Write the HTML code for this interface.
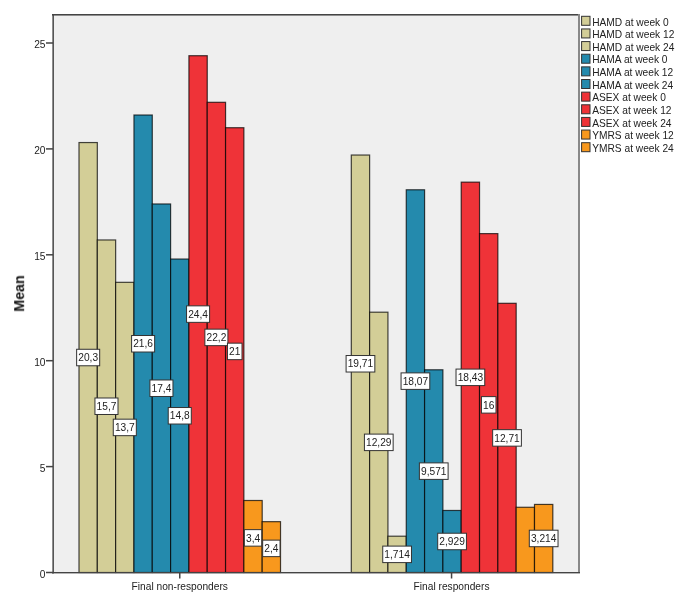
<!DOCTYPE html>
<html><head><meta charset="utf-8"><style>
html,body{margin:0;padding:0;background:#fff;}
svg{display:block;will-change:transform;}
text{font-family:"Liberation Sans", sans-serif;font-size:10.2px;fill:#222;}
</style></head><body>
<svg width="685" height="605" viewBox="0 0 685 605">
<rect x="54" y="16" width="524" height="556" fill="#EFEFEF"/>
<rect x="79.00" y="142.55" width="18.32" height="429.95" fill="#D3CE97" stroke="#000" stroke-opacity="0.72" stroke-width="1.2"/>
<rect x="97.32" y="239.97" width="18.32" height="332.53" fill="#D3CE97" stroke="#000" stroke-opacity="0.72" stroke-width="1.2"/>
<rect x="115.64" y="282.33" width="18.32" height="290.17" fill="#D3CE97" stroke="#000" stroke-opacity="0.72" stroke-width="1.2"/>
<rect x="133.96" y="115.01" width="18.32" height="457.49" fill="#248AAD" stroke="#000" stroke-opacity="0.72" stroke-width="1.2"/>
<rect x="152.28" y="203.97" width="18.32" height="368.53" fill="#248AAD" stroke="#000" stroke-opacity="0.72" stroke-width="1.2"/>
<rect x="170.60" y="259.04" width="18.32" height="313.46" fill="#248AAD" stroke="#000" stroke-opacity="0.72" stroke-width="1.2"/>
<rect x="188.92" y="55.71" width="18.32" height="516.79" fill="#EF3338" stroke="#000" stroke-opacity="0.72" stroke-width="1.2"/>
<rect x="207.24" y="102.30" width="18.32" height="470.20" fill="#EF3338" stroke="#000" stroke-opacity="0.72" stroke-width="1.2"/>
<rect x="225.56" y="127.72" width="18.32" height="444.78" fill="#EF3338" stroke="#000" stroke-opacity="0.72" stroke-width="1.2"/>
<rect x="243.88" y="500.49" width="18.32" height="72.01" fill="#F8981D" stroke="#000" stroke-opacity="0.72" stroke-width="1.2"/>
<rect x="262.20" y="521.67" width="18.32" height="50.83" fill="#F8981D" stroke="#000" stroke-opacity="0.72" stroke-width="1.2"/>
<rect x="351.30" y="155.04" width="18.32" height="417.46" fill="#D3CE97" stroke="#000" stroke-opacity="0.72" stroke-width="1.2"/>
<rect x="369.62" y="312.20" width="18.32" height="260.30" fill="#D3CE97" stroke="#000" stroke-opacity="0.72" stroke-width="1.2"/>
<rect x="387.94" y="536.20" width="18.32" height="36.30" fill="#D3CE97" stroke="#000" stroke-opacity="0.72" stroke-width="1.2"/>
<rect x="406.26" y="189.78" width="18.32" height="382.72" fill="#248AAD" stroke="#000" stroke-opacity="0.72" stroke-width="1.2"/>
<rect x="424.58" y="369.79" width="18.32" height="202.71" fill="#248AAD" stroke="#000" stroke-opacity="0.72" stroke-width="1.2"/>
<rect x="442.90" y="510.46" width="18.32" height="62.04" fill="#248AAD" stroke="#000" stroke-opacity="0.72" stroke-width="1.2"/>
<rect x="461.22" y="182.15" width="18.32" height="390.35" fill="#EF3338" stroke="#000" stroke-opacity="0.72" stroke-width="1.2"/>
<rect x="479.54" y="233.62" width="18.32" height="338.88" fill="#EF3338" stroke="#000" stroke-opacity="0.72" stroke-width="1.2"/>
<rect x="497.86" y="303.30" width="18.32" height="269.20" fill="#EF3338" stroke="#000" stroke-opacity="0.72" stroke-width="1.2"/>
<rect x="516.18" y="507.27" width="18.32" height="65.23" fill="#F8981D" stroke="#000" stroke-opacity="0.72" stroke-width="1.2"/>
<rect x="534.50" y="504.43" width="18.32" height="68.07" fill="#F8981D" stroke="#000" stroke-opacity="0.72" stroke-width="1.2"/>
<rect x="76.63" y="349.27" width="23.05" height="16.50" fill="#fff" stroke="#333" stroke-width="1"/>
<text transform="translate(88.16,361.22) scale(1,1.06)" text-anchor="middle">20,3</text>
<rect x="94.95" y="397.99" width="23.05" height="16.50" fill="#fff" stroke="#333" stroke-width="1"/>
<text transform="translate(106.48,409.94) scale(1,1.06)" text-anchor="middle">15,7</text>
<rect x="113.27" y="419.17" width="23.05" height="16.50" fill="#fff" stroke="#333" stroke-width="1"/>
<text transform="translate(124.80,431.12) scale(1,1.06)" text-anchor="middle">13,7</text>
<rect x="131.59" y="335.51" width="23.05" height="16.50" fill="#fff" stroke="#333" stroke-width="1"/>
<text transform="translate(143.12,347.46) scale(1,1.06)" text-anchor="middle">21,6</text>
<rect x="149.91" y="379.98" width="23.05" height="16.50" fill="#fff" stroke="#333" stroke-width="1"/>
<text transform="translate(161.44,391.93) scale(1,1.06)" text-anchor="middle">17,4</text>
<rect x="168.23" y="407.52" width="23.05" height="16.50" fill="#fff" stroke="#333" stroke-width="1"/>
<text transform="translate(179.76,419.47) scale(1,1.06)" text-anchor="middle">14,8</text>
<rect x="186.55" y="305.85" width="23.05" height="16.50" fill="#fff" stroke="#333" stroke-width="1"/>
<text transform="translate(198.08,317.80) scale(1,1.06)" text-anchor="middle">24,4</text>
<rect x="204.87" y="329.15" width="23.05" height="16.50" fill="#fff" stroke="#333" stroke-width="1"/>
<text transform="translate(216.40,341.10) scale(1,1.06)" text-anchor="middle">22,2</text>
<rect x="227.45" y="343.16" width="14.55" height="16.50" fill="#fff" stroke="#333" stroke-width="1"/>
<text transform="translate(234.72,355.11) scale(1,1.06)" text-anchor="middle">21</text>
<rect x="244.35" y="529.64" width="17.38" height="16.50" fill="#fff" stroke="#333" stroke-width="1"/>
<text transform="translate(253.04,541.59) scale(1,1.06)" text-anchor="middle">3,4</text>
<rect x="262.67" y="540.13" width="17.38" height="16.50" fill="#fff" stroke="#333" stroke-width="1"/>
<text transform="translate(271.36,552.08) scale(1,1.06)" text-anchor="middle">2,4</text>
<rect x="346.10" y="355.52" width="28.73" height="16.50" fill="#fff" stroke="#333" stroke-width="1"/>
<text transform="translate(360.46,367.47) scale(1,1.06)" text-anchor="middle">19,71</text>
<rect x="364.42" y="434.10" width="28.73" height="16.50" fill="#fff" stroke="#333" stroke-width="1"/>
<text transform="translate(378.78,446.05) scale(1,1.06)" text-anchor="middle">12,29</text>
<rect x="382.74" y="546.10" width="28.73" height="16.50" fill="#fff" stroke="#333" stroke-width="1"/>
<text transform="translate(397.10,558.05) scale(1,1.06)" text-anchor="middle">1,714</text>
<rect x="401.06" y="372.89" width="28.73" height="16.50" fill="#fff" stroke="#333" stroke-width="1"/>
<text transform="translate(415.42,384.84) scale(1,1.06)" text-anchor="middle">18,07</text>
<rect x="419.38" y="462.89" width="28.73" height="16.50" fill="#fff" stroke="#333" stroke-width="1"/>
<text transform="translate(433.74,474.84) scale(1,1.06)" text-anchor="middle">9,571</text>
<rect x="437.70" y="533.23" width="28.73" height="16.50" fill="#fff" stroke="#333" stroke-width="1"/>
<text transform="translate(452.06,545.18) scale(1,1.06)" text-anchor="middle">2,929</text>
<rect x="456.02" y="369.08" width="28.73" height="16.50" fill="#fff" stroke="#333" stroke-width="1"/>
<text transform="translate(470.38,381.03) scale(1,1.06)" text-anchor="middle">18,43</text>
<rect x="481.43" y="396.61" width="14.55" height="16.50" fill="#fff" stroke="#333" stroke-width="1"/>
<text transform="translate(488.70,408.56) scale(1,1.06)" text-anchor="middle">16</text>
<rect x="492.66" y="429.65" width="28.73" height="16.50" fill="#fff" stroke="#333" stroke-width="1"/>
<text transform="translate(507.02,441.60) scale(1,1.06)" text-anchor="middle">12,71</text>
<rect x="529.30" y="530.21" width="28.73" height="16.50" fill="#fff" stroke="#333" stroke-width="1"/>
<text transform="translate(543.66,542.16) scale(1,1.06)" text-anchor="middle">3,214</text>
<rect x="52.4" y="14" width="1.5" height="559.5" fill="#444"/>
<rect x="52" y="14" width="527" height="1.6" fill="#444"/>
<rect x="578" y="14" width="2" height="559" fill="#888"/>
<rect x="52" y="572" width="528" height="1.4" fill="#444"/>
<rect x="46" y="571.75" width="7" height="1.5" fill="#444"/>
<text transform="translate(45.50,577.80) scale(1,1.06)" text-anchor="end">0</text>
<rect x="46" y="465.85" width="7" height="1.5" fill="#444"/>
<text transform="translate(45.50,471.90) scale(1,1.06)" text-anchor="end">5</text>
<rect x="46" y="359.95" width="7" height="1.5" fill="#444"/>
<text transform="translate(45.50,366.00) scale(1,1.06)" text-anchor="end">10</text>
<rect x="46" y="254.05" width="7" height="1.5" fill="#444"/>
<text transform="translate(45.50,260.10) scale(1,1.06)" text-anchor="end">15</text>
<rect x="46" y="148.15" width="7" height="1.5" fill="#444"/>
<text transform="translate(45.50,154.20) scale(1,1.06)" text-anchor="end">20</text>
<rect x="46" y="42.25" width="7" height="1.5" fill="#444"/>
<text transform="translate(45.50,48.30) scale(1,1.06)" text-anchor="end">25</text>
<rect x="179.01" y="573" width="1.5" height="5.5" fill="#444"/>
<text transform="translate(179.76,589.80) scale(1,1.06)" text-anchor="middle">Final non-responders</text>
<rect x="450.81" y="573" width="1.5" height="5.5" fill="#444"/>
<text transform="translate(451.56,589.80) scale(1,1.06)" text-anchor="middle">Final responders</text>
<text transform="translate(24.2,293.5) rotate(-90) scale(1,1.08)" text-anchor="middle" style="font-weight:bold;font-size:14.3px;fill:#111">Mean</text>
<rect x="581.6" y="16.30" width="8.4" height="9" fill="#D3CE97" stroke="#333" stroke-width="1"/>
<text transform="translate(592.20,25.50) scale(1,1.06)">HAMD at week 0</text>
<rect x="581.6" y="28.94" width="8.4" height="9" fill="#D3CE97" stroke="#333" stroke-width="1"/>
<text transform="translate(592.20,38.14) scale(1,1.06)">HAMD at week 12</text>
<rect x="581.6" y="41.58" width="8.4" height="9" fill="#D3CE97" stroke="#333" stroke-width="1"/>
<text transform="translate(592.20,50.78) scale(1,1.06)">HAMD at week 24</text>
<rect x="581.6" y="54.22" width="8.4" height="9" fill="#248AAD" stroke="#333" stroke-width="1"/>
<text transform="translate(592.20,63.42) scale(1,1.06)">HAMA at week 0</text>
<rect x="581.6" y="66.86" width="8.4" height="9" fill="#248AAD" stroke="#333" stroke-width="1"/>
<text transform="translate(592.20,76.06) scale(1,1.06)">HAMA at week 12</text>
<rect x="581.6" y="79.50" width="8.4" height="9" fill="#248AAD" stroke="#333" stroke-width="1"/>
<text transform="translate(592.20,88.70) scale(1,1.06)">HAMA at week 24</text>
<rect x="581.6" y="92.14" width="8.4" height="9" fill="#EF3338" stroke="#333" stroke-width="1"/>
<text transform="translate(592.20,101.34) scale(1,1.06)">ASEX at week 0</text>
<rect x="581.6" y="104.78" width="8.4" height="9" fill="#EF3338" stroke="#333" stroke-width="1"/>
<text transform="translate(592.20,113.98) scale(1,1.06)">ASEX at week 12</text>
<rect x="581.6" y="117.42" width="8.4" height="9" fill="#EF3338" stroke="#333" stroke-width="1"/>
<text transform="translate(592.20,126.62) scale(1,1.06)">ASEX at week 24</text>
<rect x="581.6" y="130.06" width="8.4" height="9" fill="#F8981D" stroke="#333" stroke-width="1"/>
<text transform="translate(592.20,139.26) scale(1,1.06)">YMRS at week 12</text>
<rect x="581.6" y="142.70" width="8.4" height="9" fill="#F8981D" stroke="#333" stroke-width="1"/>
<text transform="translate(592.20,151.90) scale(1,1.06)">YMRS at week 24</text>
</svg>
</body></html>
